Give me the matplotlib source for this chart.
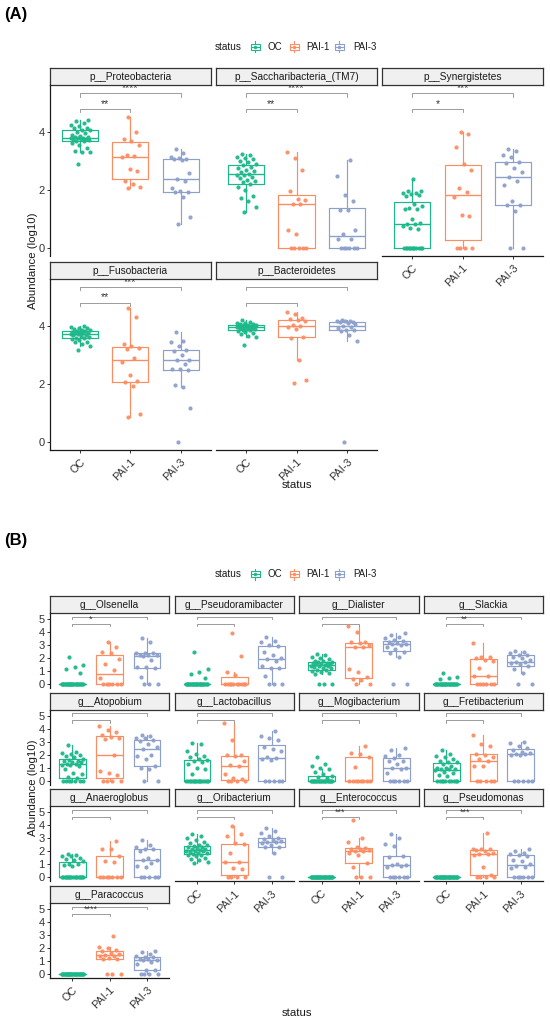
import matplotlib
matplotlib.use("Agg")
import matplotlib.pyplot as plt
from matplotlib.patches import Rectangle
import numpy as np

plt.rcParams['font.family'] = ['Liberation Sans', 'DejaVu Sans']

groups = ["OC", "PAI-1", "PAI-3"]
group_colors = ["#1DB88A", "#FC8D62", "#8DA0CB"]

# ---------------- Panel (A) data: log10 abundance per sample ----------------
proteobacteria = [
    [2.9, 3.3, 3.32, 3.35, 3.45, 3.55, 3.62, 3.68, 3.7, 3.72, 3.74, 3.75, 3.76, 3.78, 3.79, 3.80,
     3.82, 3.84, 3.86, 3.9, 3.95, 4.0, 4.05, 4.08, 4.12, 4.15, 4.2, 4.25, 4.32, 4.36, 4.41],
    [2.06, 2.1, 2.2, 2.3, 2.66, 2.71, 3.12, 3.18, 3.2, 3.55, 3.67, 3.75, 3.99, 4.53],
    [0.83, 1.08, 1.75, 1.91, 1.94, 1.97, 2.08, 2.32, 2.37, 2.57, 3.02, 3.05, 3.08, 3.1, 3.12, 3.26, 3.40],
]
saccharibacteria = [
    [1.24, 1.41, 1.62, 1.72, 1.78, 2.01, 2.1, 2.2, 2.26, 2.3, 2.35, 2.4, 2.45, 2.5, 2.52, 2.56,
     2.6, 2.65, 2.7, 2.75, 2.8, 2.85, 2.88, 2.95, 3.0, 3.05, 3.1, 3.15, 3.2, 3.25],
    [0, 0, 0, 0, 0, 0.48, 0.63, 1.5, 1.53, 1.66, 1.67, 1.95, 2.68, 3.11, 3.31],
    [0, 0, 0, 0, 0, 0, 0.29, 0.31, 0.48, 0.61, 1.31, 1.32, 1.61, 1.84, 2.49, 3.02],
]
synergistetes = [
    [0, 0, 0, 0, 0, 0, 0, 0, 0, 0, 0, 0, 0.65, 0.69, 0.75, 0.82, 0.84, 0.87, 0.98, 1.34, 1.35,
     1.38, 1.44, 1.53, 1.78, 1.82, 1.85, 1.88, 1.9, 1.95, 1.97, 2.36],
    [0, 0, 0, 0, 1.1, 1.12, 1.76, 1.92, 2.05, 2.7, 2.91, 3.48, 3.92, 3.99],
    [0, 0, 1.26, 1.47, 1.47, 1.61, 2.18, 2.3, 2.45, 2.61, 2.76, 2.93, 2.97, 3.12, 3.22, 3.33, 3.41],
]
fusobacteria = [
    [3.15, 3.3, 3.35, 3.42, 3.45, 3.5, 3.52, 3.57, 3.58, 3.6, 3.63, 3.66, 3.68, 3.7, 3.72, 3.73,
     3.75, 3.76, 3.77, 3.78, 3.8, 3.81, 3.83, 3.85, 3.87, 3.9, 3.92, 3.94, 3.97],
    [0.85, 0.95, 1.93, 2.06, 2.08, 2.31, 2.75, 2.89, 3.2, 3.23, 3.29, 3.37, 4.30, 4.59],
    [0, 1.18, 1.87, 1.94, 2.47, 2.5, 2.52, 2.68, 2.82, 2.83, 2.97, 3.11, 3.17, 3.29, 3.43, 3.48, 3.77],
]
bacteroidetes = [
    [3.32, 3.61, 3.65, 3.7, 3.73, 3.77, 3.8, 3.84, 3.86, 3.87, 3.88, 3.9, 3.91, 3.92, 3.94, 3.95,
     3.96, 3.97, 3.98, 3.99, 4.0, 4.02, 4.02, 4.03, 4.05, 4.06, 4.08, 4.1, 4.12, 4.18],
    [2.02, 2.14, 2.83, 3.57, 3.61, 3.89, 3.95, 4.0, 4.03, 4.15, 4.18, 4.21, 4.26, 4.38, 4.46],
    [0, 3.46, 3.66, 3.8, 3.84, 3.86, 3.9, 3.95, 3.98, 4.05, 4.1, 4.11, 4.12, 4.14, 4.15, 4.16, 4.18],
]
A_names = ["p__Proteobacteria", "p__Saccharibacteria_(TM7)", "p__Synergistetes",
           "p__Fusobacteria", "p__Bacteroidetes"]
A_sig_low = ["**", "**", "*", "**", ""]
A_sig_high = ["****", "****", "***", "***", ""]
A_yticks = [0, 2, 4]

# ---------------- Panel (B) data ----------------
olsenella = [
    [2.05, 1.49, 1.33, 1.13, 0.87, 0, 0, 0, 0, 0, 0, 0, 0, 0, 0, 0, 0, 0, 0, 0, 0, 0, 0, 0, 0, 0, 0, 0, 0, 0],
    [0, 0, 0, 0, 0, 0, 0.49, 1.08, 1.54, 1.9, 2.35, 2.49, 2.87, 3.2],
    [0, 0, 0, 0.51, 1.26, 1.28, 1.3, 1.85, 2.18, 2.2, 2.22, 2.25, 2.36, 2.38, 2.4, 3.2, 3.5],
]
pseudoramibacter = [
    [2.49, 1.15, 0.95, 0.77, 0.44, 0, 0, 0, 0, 0, 0, 0, 0, 0, 0, 0, 0, 0, 0, 0, 0, 0, 0, 0, 0, 0, 0, 0, 0, 0],
    [0, 0, 0, 0, 0, 0, 0, 0, 0, 0, 0.69, 0.95, 2.15, 3.95],
    [0, 0, 0, 0.6, 1.2, 1.25, 1.4, 1.8, 1.9, 2.0, 2.2, 2.45, 2.95, 3.0, 3.2, 3.3, 3.6],
]
dialister = [
    [0, 0, 0, 0.75, 0.85, 0.95, 1.0, 1.05, 1.1, 1.2, 1.25, 1.3, 1.35, 1.4, 1.42, 1.45, 1.5, 1.52,
     1.55, 1.6, 1.65, 1.7, 1.72, 1.75, 1.8, 1.9, 2.0, 2.1, 2.2, 2.3],
    [0, 0, 0.3, 0.36, 0.52, 0.95, 1.15, 2.82, 2.87, 3.0, 3.13, 3.2, 3.26, 4.03, 4.46],
    [0, 0, 2.1, 2.36, 2.49, 2.7, 2.87, 3.0, 3.05, 3.1, 3.13, 3.2, 3.3, 3.35, 3.5, 3.64, 3.77, 3.9],
]
slackia = [
    [0.87, 0.51, 0.44, 0.36, 0, 0, 0, 0, 0, 0, 0, 0, 0, 0, 0, 0, 0, 0, 0, 0, 0, 0, 0, 0, 0, 0, 0, 0, 0, 0],
    [0, 0, 0, 0, 0, 0, 0.6, 0.64, 1.2, 1.8, 1.85, 2.0, 2.05, 2.1, 3.13],
    [0, 0, 0.82, 1.13, 1.38, 1.54, 1.65, 1.7, 1.72, 1.85, 1.97, 2.1, 2.2, 2.23, 2.41, 2.45, 2.56],
]
atopobium = [
    [0, 0, 0, 0, 0, 0, 0, 0.2, 0.3, 0.5, 0.6, 0.9, 1.15, 1.2, 1.24, 1.26, 1.3, 1.4, 1.45, 1.5,
     1.55, 1.6, 1.64, 1.8, 1.9, 2.0, 2.05, 2.1, 2.2, 2.73],
    [0, 0, 0, 0, 0.4, 0.6, 0.73, 1.98, 3.2, 3.28, 3.33, 3.52, 3.78, 3.93, 4.17],
    [0, 0, 0.86, 1.0, 1.12, 1.64, 1.9, 2.0, 2.47, 2.6, 2.81, 3.07, 3.15, 3.26, 3.3, 3.41, 3.54],
]
lactobacillus = [
    [0, 0, 0, 0, 0, 0, 0, 0, 0, 0, 0, 0, 0, 0, 0, 0, 0.5, 0.9, 1.0, 1.25, 1.4, 1.5, 1.6, 1.7,
     1.8, 1.9, 2.05, 2.3, 2.8, 2.9],
    [0, 0, 0, 0, 0.13, 0.2, 0.5, 1.12, 1.2, 1.5, 1.9, 1.95, 2.0, 3.1, 4.4],
    [0, 0, 0, 0, 0, 1.6, 1.7, 1.75, 1.8, 2.3, 2.45, 2.6, 3.1, 3.3, 3.45, 3.8],
]
mogibacterium = [
    [0, 0, 0, 0, 0, 0, 0, 0, 0, 0, 0, 0, 0, 0, 0, 0, 0, 0, 0, 0, 0.2, 0.3, 0.39, 0.52, 0.65,
     0.86, 1.0, 1.12, 1.25, 1.85],
    [0, 0, 0, 0, 0, 0, 0, 0, 1.07, 1.85, 2.05, 2.16, 2.68],
    [0, 0, 0, 0, 0, 0, 0.6, 0.86, 0.99, 1.0, 1.25, 1.5, 1.55, 1.77, 1.9, 1.95, 2.37, 2.55],
]
fretibacterium = [
    [0, 0, 0, 0, 0, 0, 0, 0, 0, 0, 0.34, 0.47, 0.6, 0.7, 0.8, 0.86, 0.88, 0.91, 0.95, 1.0, 1.1,
     1.25, 1.4, 1.45, 1.5, 1.64, 1.8, 1.9, 2.03, 2.37],
    [0, 0, 0, 0, 0, 1.1, 1.15, 1.5, 1.65, 1.8, 2.0, 2.05, 2.7, 2.8, 3.5],
    [0, 0, 0, 0, 0, 1.95, 2.0, 2.03, 2.05, 2.1, 2.2, 2.35, 2.55, 2.7, 2.9, 3.0],
]
anaeroglobus = [
    [0, 0, 0, 0, 0, 0, 0, 0, 0, 0, 0, 0, 0, 0, 0, 0, 0, 0, 0.85, 0.95, 1.0, 1.05, 1.25, 1.3,
     1.4, 1.5, 1.6, 1.65, 1.7, 1.8],
    [0, 0, 0, 0, 0, 0, 0, 1.2, 1.28, 1.66, 2.15, 2.2, 2.78],
    [0, 0, 0, 0, 0, 0.8, 0.85, 1.1, 1.31, 1.35, 1.5, 2.0, 2.15, 2.2, 2.3, 2.5, 2.9],
]
oribacterium = [
    [1.1, 1.2, 1.3, 1.4, 1.5, 1.6, 1.7, 1.75, 1.8, 1.85, 1.9, 1.95, 2.0, 2.02, 2.05, 2.1, 2.15,
     2.2, 2.25, 2.3, 2.35, 2.4, 2.45, 2.5, 2.6, 2.75, 2.9, 3.05, 3.2, 3.3],
    [0, 0, 0, 0, 0.62, 0.7, 1.18, 1.2, 1.9, 2.55, 2.6, 3.15, 3.3, 3.95],
    [0, 0, 1.9, 2.3, 2.36, 2.5, 2.6, 2.7, 2.74, 2.8, 2.85, 2.95, 3.0, 3.2, 3.4, 3.55, 3.8],
]
enterococcus = [
    [0, 0, 0, 0, 0, 0, 0, 0, 0, 0, 0, 0, 0, 0, 0, 0, 0, 0, 0, 0, 0, 0, 0, 0, 0, 0, 0, 0, 0, 0],
    [0, 0, 0, 0.8, 1.1, 1.7, 1.9, 2.0, 2.05, 2.1, 2.15, 2.2, 2.25, 2.3, 2.7, 3.0, 4.4],
    [0, 0, 0, 0, 0, 0, 0.8, 0.87, 0.92, 0.95, 1.0, 1.55, 1.65, 2.4, 2.55, 3.05, 3.3],
]
pseudomonas = [
    [0, 0, 0, 0, 0, 0, 0, 0, 0, 0, 0, 0, 0, 0, 0, 0, 0, 0, 0, 0, 0, 0, 0, 0, 0, 0, 0, 0, 0, 0],
    [0, 0, 0, 0, 0.2, 0.8, 1.75, 1.77, 1.8, 1.9, 2.0, 2.1, 2.15, 2.18, 2.2, 3.4],
    [0, 0, 0, 0, 0, 0, 0.7, 0.8, 0.87, 1.0, 1.25, 1.3, 1.6, 1.7, 1.8, 1.9, 2.05, 2.2],
]
paracoccus = [
    [0, 0, 0, 0, 0, 0, 0, 0, 0, 0, 0, 0, 0, 0, 0, 0, 0, 0, 0, 0, 0, 0, 0, 0, 0, 0, 0, 0, 0, 0],
    [0, 0, 0, 1.13, 1.15, 1.2, 1.35, 1.4, 1.46, 1.5, 1.6, 1.74, 1.85, 2.0, 2.05, 2.95],
    [0, 0, 0, 0, 0.3, 0.33, 0.77, 0.9, 1.05, 1.1, 1.12, 1.15, 1.28, 1.3, 1.4, 1.55, 1.7, 1.8],
]
B_names = ["g__Olsenella", "g__Pseudoramibacter", "g__Dialister", "g__Slackia",
           "g__Atopobium", "g__Lactobacillus", "g__Mogibacterium", "g__Fretibacterium",
           "g__Anaeroglobus", "g__Oribacterium", "g__Enterococcus", "g__Pseudomonas",
           "g__Paracoccus"]
B_sig_low = ["*", "", "", "**", "", "", "", "", "", "", "***", "***", "****"]
B_yticks = [0, 1, 2, 3, 4, 5]

A_data = [proteobacteria, saccharibacteria, synergistetes, fusobacteria, bacteroidetes]
B_data = [olsenella, pseudoramibacter, dialister, slackia, atopobium, lactobacillus,
          mogibacterium, fretibacterium, anaeroglobus, oribacterium, enterococcus,
          pseudomonas, paracoccus]

# ---------------- layout ----------------
W, H = 550, 1022
fig = plt.figure(figsize=(W / 100, H / 100), dpi=100)
fig.patch.set_facecolor("white")

TXT = "#1a1a1a"
TICK = "#333333"


def px_axes(x0, y0, x1, y1):
    return fig.add_axes([x0 / W, 1 - y1 / H, (x1 - x0) / W, (y1 - y0) / H])


def strip(x0, y0, x1, y1, text):
    s = px_axes(x0, y0, x1, y1)
    s.set_xticks([])
    s.set_yticks([])
    s.set_facecolor("#F0F0F0")
    for sp in s.spines.values():
        sp.set_color("#333333")
        sp.set_linewidth(0.9)
    s.text(0.5, 0.47, text, ha="center", va="center", fontsize=7.3, color=TXT,
           transform=s.transAxes)


def panel(ax, data, ylim, jit, yticks, show_x, show_y, low, high, sig_low, sig_high, sig_fs):
    ax.set_xlim(0.4, 3.6)
    ax.set_ylim(*ylim)
    for i, (vals, c) in enumerate(zip(data, group_colors)):
        ax.boxplot(vals, positions=[i + 1], widths=0.72, showfliers=False, showcaps=False,
                   manage_ticks=False, whis=1.5,
                   boxprops=dict(color=c, lw=0.85),
                   whiskerprops=dict(color=c, lw=0.85),
                   medianprops=dict(color=c, lw=1.0))
        n = len(vals)
        offs = ((np.arange(n) * 0.6180339 + 0.37) % 1.0 - 0.5) * 2 * jit
        ax.scatter(i + 1 + offs, vals, s=9, color=c, lw=0, alpha=0.95, zorder=3)
    # significance brackets
    gl, gt = low
    hl, ht = high
    ax.plot([1, 1, 2, 2], [gt, gl, gl, gt], color="#8c8c8c", lw=0.6)
    ax.plot([1, 1, 3, 3], [ht, hl, hl, ht], color="#8c8c8c", lw=0.6)
    if sig_low:
        ax.text(1.5, gl, sig_low, ha="center", va="bottom", fontsize=sig_fs, color="#333333")
    if sig_high:
        ax.text(2.0, hl, sig_high, ha="center", va="bottom", fontsize=sig_fs, color="#333333",
                clip_on=True)
    ax.spines["top"].set_visible(False)
    ax.spines["right"].set_visible(False)
    for side in ("left", "bottom"):
        ax.spines[side].set_color("#1a1a1a")
        ax.spines[side].set_linewidth(0.9)
    ax.set_facecolor("none")
    if show_y:
        ax.set_yticks(yticks)
        ax.set_yticklabels([str(t) for t in yticks])
        ax.tick_params(axis="y", length=2.5, width=0.7, color="#333333", labelsize=8,
                       labelcolor=TICK, pad=1.5)
    else:
        ax.spines["left"].set_visible(False)
        ax.set_yticks([])
    if show_x:
        ax.set_xticks([1, 2, 3])
        ax.set_xticklabels(groups, rotation=45, ha="right", va="top", rotation_mode="anchor")
        ax.tick_params(axis="x", length=2.5, width=0.7, color="#333333", labelsize=7.8,
                       labelcolor=TICK, pad=2.5)
    else:
        ax.spines["bottom"].set_visible(False)
        ax.set_xticks([])


def legend(yc):
    lg = px_axes(200, yc - 10, 400, yc + 10)
    lg.set_xlim(200, 400)
    lg.set_ylim(yc + 10, yc - 10)
    lg.axis("off")
    lg.text(215, yc, "status", ha="left", va="center", fontsize=7.2, color=TXT)
    key_cx = [255, 294, 339]
    lab_x = [267, 306, 353]
    for cx, lx, c, g in zip(key_cx, lab_x, group_colors, groups):
        lg.add_patch(Rectangle((cx - 4.5, yc - 3), 9, 6, fill=False, ec=c, lw=0.8))
        lg.plot([cx - 4.5, cx + 4.5], [yc, yc], color=c, lw=0.8)
        lg.plot([cx, cx], [yc - 3, yc - 5.5], color=c, lw=0.8)
        lg.plot([cx, cx], [yc + 3, yc + 5.5], color=c, lw=0.8)
        lg.scatter([cx], [yc], s=6, color=c, lw=0, zorder=3)
        lg.text(lx, yc, g, ha="left", va="center", fontsize=7.0, color=TXT)


# ---------------- Panel A ----------------
fig.text(4 / W, 1 - 14 / H, "(A)", ha="left", va="center", fontsize=12, fontweight="bold",
         color="black")
legend(47)
A_cols = [(50, 210.8), (216.1, 376.9), (382.2, 543)]
A_rows = [(68, 85.5, 256), (261.5, 279, 450)]
A_ylim = (-0.28, 5.6)
for k, (name, dat) in enumerate(zip(A_names, A_data)):
    r, c = divmod(k, 3)
    x0, x1 = A_cols[c]
    st, pt, pb = A_rows[r]
    strip(x0, st, x1, pt, name)
    ax = px_axes(x0, pt, x1, pb)
    show_x = (r == 1) or (c == 2)
    panel(ax, dat, A_ylim, 0.2, A_yticks, show_x, c == 0, (4.79, 4.67), (5.33, 5.22),
          A_sig_low[k], A_sig_high[k], 7.5)
fig.text(33 / W, 1 - 261 / H, "Abundance (log10)", rotation=90, ha="center", va="center",
         fontsize=8.2, color=TXT)
fig.text(296.5 / W, 1 - 485 / H, "status", ha="center", va="center", fontsize=8.2, color=TXT)

# ---------------- Panel B ----------------
fig.text(4 / W, 1 - 540 / H, "(B)", ha="left", va="center", fontsize=12, fontweight="bold",
         color="black")
legend(574)
B_cols = [(50, 169.3), (174.6, 293.9), (299.2, 418.5), (423.8, 543)]
B_strip_tops = [596, 692.7, 789.3, 886]
B_ylim = (-0.31, 5.46)
for k, (name, dat) in enumerate(zip(B_names, B_data)):
    r, c = divmod(k, 4)
    x0, x1 = B_cols[c]
    st = B_strip_tops[r]
    strip(x0, st, x1, st + 17, name)
    ax = px_axes(x0, st + 17, x1, st + 92)
    show_x = (r == 3) or (r == 2 and c > 0)
    panel(ax, dat, B_ylim, 0.3, B_yticks, show_x, c == 0, (4.64, 4.46), (5.18, 4.98),
          B_sig_low[k], "", 6.5)
fig.text(33 / W, 1 - 788 / H, "Abundance (log10)", rotation=90, ha="center", va="center",
         fontsize=8.2, color=TXT)
fig.text(296.5 / W, 1 - 1013 / H, "status", ha="center", va="center", fontsize=8.2, color=TXT)

fig.savefig("out.png", dpi=100, facecolor="white")
